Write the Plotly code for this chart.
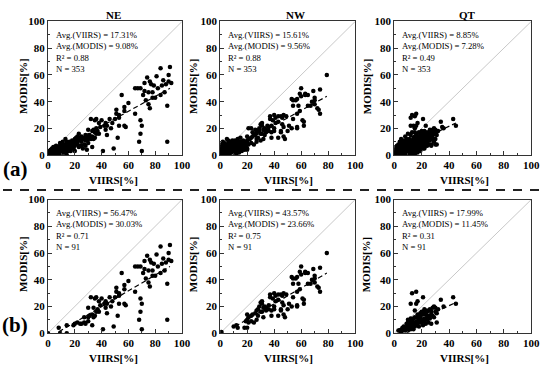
import plotly.graph_objects as go

# ---------------- data ----------------
# (b) rows: N = 91 subset; (a) rows: subset + additional low-cover points
ne_b = [(84,65),(91,66),(81,59),(74,58),(90,60),(72,54),(76,55),(77,53),(69,50),(65,50),(67,50),(88,53),
        (85,52),(92,54),(87,47),(84,45),(78,47),(75,47),(71,45),(80,43),(73,41),(75,38),(76,35),(89,37),
        (55,45),(60,39),(57,36),(57,33),(51,34),(51,31),(53,30),(50,27),(65,31),(69,26),(70,22),(69,16),
        (57,22),(58,21),(52,13),(68,10),(89,10),(70,3),(49,5),(41,3),(46,27),(40,26),(38,24),(36,27),
        (32,27),(43,24),(42,22),(39,21),(34,19),(30,19),(38,16),(35,13),(33,14),(30,12),(27,12),(31,13),
        (34,12),(24,7),(20,7),(22,8),(19,6),(27,8),(30,9),(33,6),(44,15),(43,19),(14,6),(14,0),(9,0),
        (8,4),(0,0),(25,7),(28,7),(36,16),(37,18),(44,22),(47,20),(48,24),(53,28),(35,26),(53,22),
        (72,48),(79,52),(82,50),(86,56),(90,55),(78,43)]
ne_extra = [(0,0),(1,0),(1,1),(2,0),(2,1),(2,2),(3,1),(3,2),(3,3),(4,1),(4,2),(4,3),(5,1),(5,2),(5,3),
            (5,4),(6,2),(6,3),(6,4),(6,5),(7,2),(7,3),(7,4),(7,6),(8,2),(8,3),(8,5),(8,6),(9,3),(9,4),
            (9,5),(9,7),(10,3),(10,4),(10,6),(10,8),(11,4),(11,5),(11,7),(12,4),(12,6),(12,8),(13,5),
            (13,7),(13,12),(14,8),(14,10),(15,6),(15,9),(16,7),(16,10),(17,8),(17,3),(18,9),(18,11),
            (19,10),(20,9),(20,12),(21,11),(21,13),(22,10),(22,14),(23,12),(23,16),(24,11),(24,13),
            (25,10),(25,14),(26,12),(27,13),(28,11),(28,15),(29,13),(30,14),(31,15),(32,12),(33,18),
            (35,17),(36,20),(3,5),(4,6),(2,4),(1,3),(6,7),(9,9),(11,10),(12,2),(15,3),(19,5),(23,6),
            (26,5),(29,4),(13,2),(16,4),(18,6),(20,3),(0,2),(1,2),(3,0),(4,0),(5,0),(6,1),(7,1),(8,1),
            (9,2),(10,2),(14,4),(17,5),(11,2),(12,3)]

nw_b = [(79,60),(60,50),(74,49),(69,48),(65,45),(63,45),(59,46),(54,41),(56,41),(54,37),(70,43),(70,41),
        (70,38),(67,37),(65,37),(73,34),(74,31),(59,33),(57,31),(58,37),(49,29),(54,27),(62,25),(62,22),
        (51,22),(53,20),(57,20),(50,18),(47,21),(46,28),(45,29),(43,29),(41,28),(39,26),(37,27),(43,25),
        (41,24),(46,23),(45,18),(43,13),(47,14),(48,12),(38,13),(40,18),(36,18),(38,17),(34,17),(32,19),
        (30,23),(31,22),(29,20),(33,20),(36,21),(28,18),(26,15),(24,14),(23,13),(27,17),(30,16),(32,12),
        (31,16),(21,12),(20,10),(19,9),(21,8),(25,8),(27,10),(18,4),(20,4),(12,6),(13,4),(10,5),(20,14),
        (1,1),(53,42),(57,42),(60,44),(63,46),(68,40),(72,35),(37,29),(40,30),(47,30),(31,24),(34,19),
        (40,20),(57,21),(61,26),(45,17),(23,9),(28,13)]
nw_extra = [(0,0),(0,2),(0,4),(0,6),(1,1),(1,3),(1,5),(1,8),(2,0),(2,2),(2,4),(2,6),(2,10),(3,1),(3,3),
            (3,5),(3,7),(3,9),(4,0),(4,2),(4,4),(4,6),(4,8),(5,1),(5,3),(5,5),(5,7),(5,12),(6,2),(6,4),
            (6,6),(6,9),(7,1),(7,3),(7,5),(7,7),(8,2),(8,4),(8,6),(8,8),(9,3),(9,5),(9,7),(9,11),(10,2),
            (10,4),(10,6),(10,9),(11,3),(11,5),(11,8),(12,4),(12,7),(12,10),(13,3),(13,6),(13,9),(13,12),
            (14,5),(14,8),(15,4),(15,7),(15,10),(15,13),(16,6),(16,9),(17,5),(17,8),(17,11),(18,7),(18,10),
            (19,6),(19,9),(20,8),(20,11),(21,20),(23,20),(22,12),(24,17),(25,15),(26,19),(27,12),(29,18),
            (30,11),(33,15),(35,22),(38,22),(16,3),(14,2),(12,1),(20,5),(11,11),(6,11),(8,10)]

qt_b = [(43,27),(45,22),(34,25),(36,20),(13,30),(16,31),(21,27),(17,24),(12,22),(16,22),(15,17),(25,17),
        (30,16),(29,12),(27,7),(25,8),(31,8),(23,11),(21,6),(20,14),(22,16),(23,14),(24,13),(26,13),
        (19,12),(18,10),(14,8),(17,12),(12,11),(11,7),(10,5),(7,5),(6,3),(4,2),(5,2),(8,2),(12,3),(14,5),
        (19,8),(21,10),(13,6),(15,7),(10,10),(5,1),(6,2),(7,3),(8,4),(9,3),(10,2),(11,4),(12,5),(13,4),
        (14,3),(15,5),(16,6),(17,7),(18,5),(19,9),(20,8),(22,9),(23,7),(24,10),(25,12),(26,11),(27,14),
        (28,13),(9,7),(10,8),(11,9),(12,7),(13,9),(14,11),(15,12),(16,9),(17,14),(18,13),(19,15),(20,16),
        (21,14),(22,18),(23,17),(24,16),(26,18),(28,19),(30,19),(29,20),(31,15),(32,18),(27,16),(3,2),(6,4)]
qt_extra = [(0,0),(0,2),(0,4),(1,1),(1,3),(1,6),(2,0),(2,2),(2,4),(2,7),(3,1),(3,3),(3,5),(3,8),(4,0),
            (4,2),(4,4),(4,6),(4,10),(5,1),(5,3),(5,5),(5,8),(5,12),(6,0),(6,2),(6,4),(6,6),(6,9),(7,1),
            (7,3),(7,5),(7,7),(7,11),(8,0),(8,2),(8,4),(8,6),(8,9),(8,14),(9,1),(9,3),(9,5),(9,8),(9,12),
            (10,2),(10,4),(10,6),(10,9),(10,16),(11,1),(11,3),(11,5),(11,8),(11,12),(12,2),(12,4),(12,6),
            (12,10),(12,15),(13,3),(13,5),(13,8),(13,11),(13,17),(14,2),(14,6),(14,9),(14,13),(15,4),(15,7),
            (15,10),(15,14),(16,3),(16,6),(16,11),(16,16),(17,5),(17,9),(17,13),(18,4),(18,8),(18,12),
            (18,17),(19,7),(19,11),(19,15),(20,6),(20,10),(20,13),(20,18),(21,9),(21,12),(21,16),(22,8),
            (22,11),(22,15),(23,10),(23,13),(24,12),(24,16),(25,11),(25,14),(26,13),(26,16),(27,12),
            (28,15),(29,17),(24,7),(22,5),(17,2),(13,1),(19,3),(15,1),(15,29),(12,28),(14,22),(15,20),
            (23,22),(35,21),(26,19),(30,18),(29,16),(30,12),(29,10),(30,8),(27,8),(23,8),(21,5),(19,6)]

# regression (dashed) line end points
ne_a_fit = ([1, 91], [0, 50])
ne_b_fit = ([8, 91], [1, 50])
nw_a_fit = ([0, 79], [0, 44])
nw_b_fit = ([11, 79], [5, 45])
qt_a_fit = ([0, 45], [2, 24])
qt_b_fit = ([3, 45], [3, 23])

ne_a_stats = ["Avg.(VIIRS) = 17.31%", "Avg.(MODIS) = 9.08%", "R² = 0.88", "N = 353"]
nw_a_stats = ["Avg.(VIIRS) = 15.61%", "Avg.(MODIS) = 9.56%", "R² = 0.88", "N = 353"]
qt_a_stats = ["Avg.(VIIRS) = 8.85%", "Avg.(MODIS) = 7.28%", "R² = 0.49", "N = 353"]
ne_b_stats = ["Avg.(VIIRS) = 56.47%", "Avg.(MODIS) = 30.03%", "R² = 0.71", "N = 91"]
nw_b_stats = ["Avg.(VIIRS) = 43.57%", "Avg.(MODIS) = 23.66%", "R² = 0.75", "N = 91"]
qt_b_stats = ["Avg.(VIIRS) = 17.99%", "Avg.(MODIS) = 11.45%", "R² = 0.31", "N = 91"]

region_titles = ["NE", "NW", "QT"]
row_labels = ["(a)", "(b)"]
x_title = "VIIRS[%]"
y_title = "MODIS[%]"
tick_vals = [0, 20, 40, 60, 80, 100]

# ---------------- layout ----------------
W, H = 550, 376
SERIF = "Liberation Serif"
col_px = [(46, 183), (222, 360), (400, 540)]
row_px = [(16, 154), (200, 338)]
title_px_x = [113, 299, 475]
xt_px_x = [113, 292, 472]
yt_px_x = [21, 195, 372]

panels = [
    (0, 0, ne_b + ne_extra, ne_a_fit, ne_a_stats),
    (0, 1, nw_b + nw_extra, nw_a_fit, nw_a_stats),
    (0, 2, qt_b + qt_extra, qt_a_fit, qt_a_stats),
    (1, 0, ne_b, ne_b_fit, ne_b_stats),
    (1, 1, nw_b, nw_b_fit, nw_b_stats),
    (1, 2, qt_b, qt_b_fit, qt_b_stats),
]

fig = go.Figure()
annotations = []
layout_axes = {}

def px_x(v):
    return v / W

def px_y(v):
    return 1 - v / H

for i, (r, c, pts, fit, stats) in enumerate(panels, start=1):
    xa = "x" if i == 1 else f"x{i}"
    ya = "y" if i == 1 else f"y{i}"
    xs = [p[0] for p in pts]
    ys = [p[1] for p in pts]
    # 1:1 line
    fig.add_trace(go.Scatter(x=[0, 100], y=[0, 100], mode="lines",
                             line=dict(color="#c8c8c8", width=1), xaxis=xa, yaxis=ya,
                             showlegend=False, hoverinfo="skip"))
    # regression line
    fig.add_trace(go.Scatter(x=fit[0], y=fit[1], mode="lines",
                             line=dict(color="black", width=1.2, dash="5px,3px"), xaxis=xa, yaxis=ya,
                             showlegend=False, hoverinfo="skip"))
    # points
    fig.add_trace(go.Scatter(x=xs, y=ys, mode="markers",
                             marker=dict(color="black", size=4.5, line=dict(width=0)),
                             xaxis=xa, yaxis=ya, showlegend=False))
    axis_common = dict(range=[0, 100], tickvals=tick_vals, ticks="inside", ticklen=4,
                       tickcolor="#333", tickwidth=1,
                       minor=dict(ticks="inside", ticklen=2, dtick=10, tickcolor="#333"),
                       showline=True, linecolor="#333", linewidth=1, mirror=True,
                       showgrid=False, zeroline=False, fixedrange=True,
                       tickfont=dict(family=SERIF, size=11, color="black", weight="bold"))
    x0, x1 = col_px[c]
    y0, y1 = row_px[r]
    layout_axes["xaxis" if i == 1 else f"xaxis{i}"] = dict(
        domain=[px_x(x0), px_x(x1)], anchor=ya, **axis_common)
    layout_axes["yaxis" if i == 1 else f"yaxis{i}"] = dict(
        domain=[px_y(y1), px_y(y0)], anchor=xa, **axis_common)

    # stats text block
    annotations.append(dict(text="<br>".join(stats), xref=f"{xa} domain", yref=f"{ya} domain",
                            x=0.045, y=0.955, xanchor="left", yanchor="top", align="left",
                            showarrow=False,
                            font=dict(family=SERIF, size=8.7, color="black")))
    # axis titles
    annotations.append(dict(text=x_title, xref="paper", yref="paper", x=px_x(xt_px_x[c]),
                            y=px_y(y1 + 26), xanchor="center", yanchor="middle", showarrow=False,
                            font=dict(family=SERIF, size=11, color="black", weight="bold")))
    annotations.append(dict(text=y_title, xref="paper", yref="paper", x=px_x(yt_px_x[c]),
                            y=px_y((y0 + y1) / 2 - 2), xanchor="center", yanchor="middle",
                            showarrow=False, textangle=-90,
                            font=dict(family=SERIF, size=11, color="black", weight="bold")))
    if r == 0:
        annotations.append(dict(text=region_titles[c], xref="paper", yref="paper",
                                x=px_x(title_px_x[c]), y=px_y(9), xanchor="center", yanchor="middle",
                                showarrow=False,
                                font=dict(family=SERIF, size=11, color="black", weight="bold")))

for lab, yy in zip(row_labels, [168, 330]):
    annotations.append(dict(text=lab, xref="paper", yref="paper", x=px_x(12.5), y=px_y(yy),
                            xanchor="center", yanchor="middle", showarrow=False,
                            font=dict(family=SERIF, size=21, color="black", weight="bold")))

fig.update_layout(
    width=W, height=H, margin=dict(l=0, r=0, t=0, b=0),
    paper_bgcolor="white", plot_bgcolor="white",
    annotations=annotations,
    shapes=[dict(type="line", xref="paper", yref="paper", x0=0, x1=1,
                 y0=px_y(190), y1=px_y(190), line=dict(color="#222", width=2, dash="9px,8px"))],
    **layout_axes,
)

fig.write_html("out.html", config={"displayModeBar": False},
               post_script="document.body.style.margin='0px';")
